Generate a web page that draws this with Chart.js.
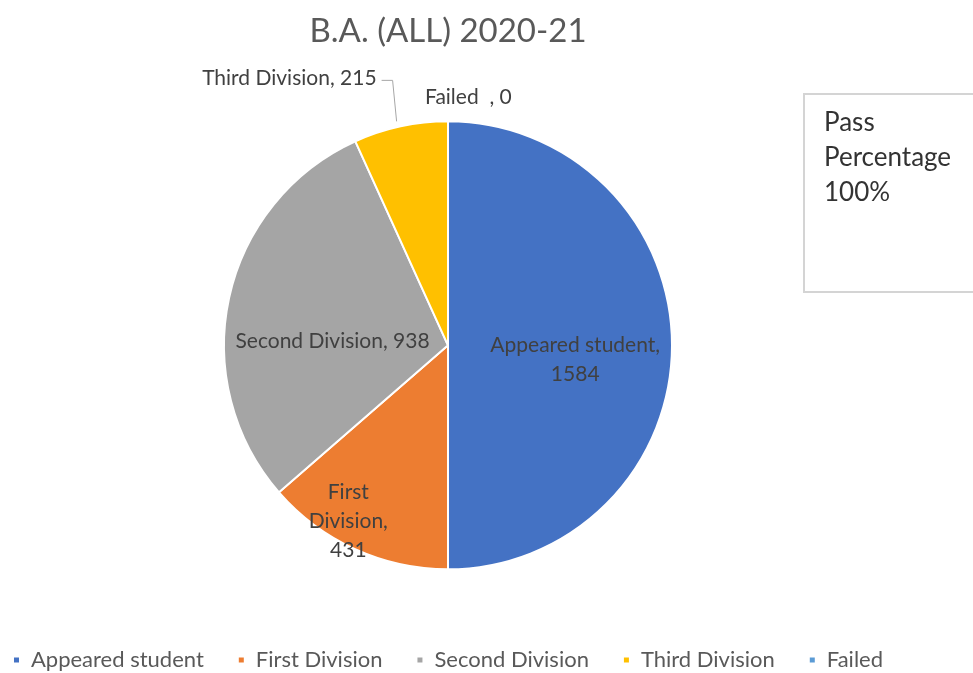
<!DOCTYPE html>
<html>
<head>
<meta charset="utf-8">
<script src="https://cdn.jsdelivr.net/npm/chart.js@4"></script>
<style>
  html, body { margin: 0; padding: 0; background: #fff; overflow: hidden; }
  #wrap { position: relative; width: 973px; height: 673px; }
  #passBox {
    position: absolute; left: 803px; top: 93px; width: 200px; height: 200px;
    border: 2px solid #d4d4d4; box-sizing: border-box;
    font-family: Lato, 'Open Sans', sans-serif; font-size: 26px; line-height: 35px;
    color: #333; padding: 9px 0 0 19px;
  }
</style>
</head>
<body>
<div id="wrap">
  <canvas id="myPieChart" width="973" height="673"></canvas>
  <div id="passBox">Pass<br>Percentage<br>100%</div>
</div>
<script>
const labels = ['Appeared student', 'First Division', 'Second Division', 'Third Division', 'Failed'];
const dataValues = [1584, 431, 938, 215, 0];
const sliceColors = ['#4472C4', '#ED7D31', '#A5A5A5', '#FFC000', '#5B9BD5'];
const chartTitle = 'B.A. (ALL) 2020-21';

// where each data label sits: fraction of radius along the mid angle, plus a nudge
const labelPlace = [
    { lines: ['Appeared student,', '1584'], r: 0.55, dx: 4, dy: 14 },
    { lines: ['First', 'Division,', '431'], r: 0.88, dx: -18, dy: -3 },
    { lines: ['Second Division, 938'], r: 0.5, dx: -6, dy: 20 },
    { lines: ['Third Division, 215'], outside: true, tx: -24, ty: -48, align: 'right' },
    { lines: ['Failed  , 0'], outside: true, tx: -23, ty: -24, align: 'left' }
];

// pie sits a bit left of the page centre, leave room for the pass box
const shiftPie = {
    id: 'shiftPie',
    afterLayout(chart) {
        const a = chart.chartArea;
        a.right -= 40;
        a.width = a.right - a.left;
        a.top += 2;
        a.bottom += 2;
    }
};

const dataLabelPlugin = {
    id: 'dataLabels',
    afterDatasetsDraw(chart) {
        const ctx = chart.ctx;
        const meta = chart.getDatasetMeta(0);
        ctx.save();
        ctx.font = '21px Lato, "Open Sans", sans-serif';
        ctx.fillStyle = '#404040';
        ctx.textBaseline = 'middle';
        meta.data.forEach((arc, i) => {
            const p = labelPlace[i];
            const mid = (arc.startAngle + arc.endAngle) / 2;
            const lh = 29;
            if (p.outside) {
                const ex = arc.x + Math.cos(mid) * arc.outerRadius;
                const ey = arc.y + Math.sin(mid) * arc.outerRadius;
                const lx = ex + p.tx;
                const ly = ey + p.ty;
                ctx.textAlign = p.align;
                ctx.fillText(p.lines[0], lx, ly);
                if (i === 3) {
                    ctx.strokeStyle = '#a6a6a6';
                    ctx.lineWidth = 1;
                    ctx.beginPath();
                    ctx.moveTo(lx + 5, ly + 2);
                    ctx.lineTo(lx + 16, ly + 2);
                    ctx.lineTo(ex - 4, ey - 5);
                    ctx.stroke();
                }
                return;
            }
            const cx = arc.x + Math.cos(mid) * arc.outerRadius * p.r + p.dx;
            const cy = arc.y + Math.sin(mid) * arc.outerRadius * p.r + p.dy;
            ctx.textAlign = 'center';
            const y0 = cy - (p.lines.length - 1) * lh / 2;
            p.lines.forEach((t, k) => ctx.fillText(t, cx, y0 + k * lh));
        });
        ctx.restore();
    }
};

const ctx = document.getElementById('myPieChart').getContext('2d');
new Chart(ctx, {
    type: 'pie',
    data: {
        labels: labels,
        datasets: [{
            data: dataValues,
            backgroundColor: sliceColors,
            borderColor: 'white',
            borderWidth: 2,
            radius: 224
        }]
    },
    options: {
        responsive: false,
        animation: false,
        layout: { padding: { left: -40, right: 37, top: 0, bottom: -8 } },
        plugins: {
            title: {
                display: true,
                text: chartTitle,
                color: '#595959',
                font: { family: 'Lato, "Open Sans", sans-serif', size: 33, weight: 'normal' },
                padding: { top: 12, bottom: 20 }
            },
            legend: {
                display: true,
                position: 'bottom',
                labels: {
                    color: '#595959',
                    font: { family: 'Lato, "Open Sans", sans-serif', size: 22 },
                    usePointStyle: true,
                    pointStyle: 'rect',
                    boxWidth: 7,
                    boxHeight: 7,
                    padding: 34
                }
            },
            tooltip: { enabled: false }
        }
    },
    plugins: [shiftPie, dataLabelPlugin]
});
</script>
</body>
</html>
